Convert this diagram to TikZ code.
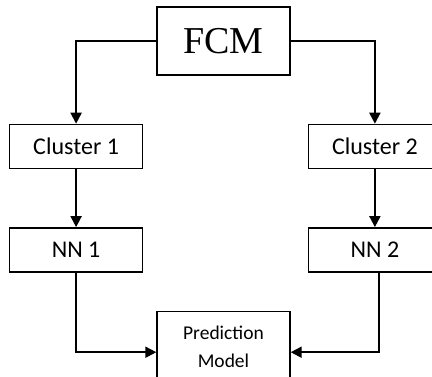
\documentclass[tikz,border=0pt]{standalone}
\usepackage{fontspec}
\setmainfont{Carlito}
\newfontfamily\timesfont{Liberation Serif}
\usetikzlibrary{arrows.meta,positioning}

\tikzset{
  block/.style={draw,line width=1.4pt,minimum width=133pt,minimum height=44pt,
    inner sep=0pt,font=\fontsize{24}{28}\selectfont},
  arr/.style={line width=2pt,-{Triangle[length=11pt,width=11pt]}}
}

\begin{document}
\begin{tikzpicture}
        \useasboundingbox (0,0) rectangle (432pt,-376pt);
        \node[block,minimum height=68pt,font=\timesfont\fontsize{38}{42}\selectfont] (fcm) at (223.5pt,-41pt) {FCM};
        \node[block,below left = 48pt and 13pt of fcm.south west,anchor=north east] (clusterone) {Cluster 1};
        \node[block,below right = 48pt and 17pt of fcm.south east,anchor=north west] (clustertwo) {Cluster 2};
        \node[block,below = 58pt of clusterone] (nnone) {NN 1};
        \node[block,below = 58pt of clustertwo] (nntwo) {NN 2};
        \node[block,minimum height=72pt,align=center,font=\fontsize{19.5}{28}\selectfont,
              below right = 38pt and 13pt of nnone.south east,anchor=north west] (predmodel) {Prediction\\Model};
        \draw [arr] (fcm.west) -| (clusterone.north);
        \draw [arr] (fcm.east) -| (clustertwo.north);
        \draw [arr] (clusterone) -- (nnone);
        \draw [arr] (clustertwo) -- (nntwo);
        \draw [arr] (nnone.south) |- ([yshift=-5pt]predmodel.west);
        \draw [arr] ([xshift=4pt]nntwo.south) |- ([yshift=-5pt]predmodel.east);
      \end{tikzpicture}
\end{document}
